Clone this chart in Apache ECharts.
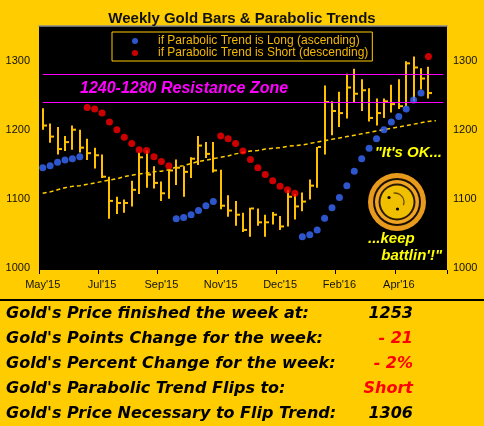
<!DOCTYPE html>
<html><head><meta charset="utf-8">
<style>html,body{margin:0;padding:0;background:#ffcc00;}#c{width:484px;height:426px;}</style>
<script src="https://cdn.jsdelivr.net/npm/echarts@6/dist/echarts.min.js"></script>
</head><body><div id="c"></div>
<script>
// weekly categories (last two are empty slots at the right edge)
const weeks = ['2015-05-22','2015-05-29','2015-06-05','2015-06-12','2015-06-19','2015-06-26','2015-07-03','2015-07-10','2015-07-17','2015-07-24','2015-07-31','2015-08-07','2015-08-14','2015-08-21','2015-08-28','2015-09-04','2015-09-11','2015-09-18','2015-09-25','2015-10-02','2015-10-09','2015-10-16','2015-10-23','2015-10-30','2015-11-06','2015-11-13','2015-11-20','2015-11-27','2015-12-04','2015-12-11','2015-12-18','2015-12-25','2016-01-01','2016-01-08','2016-01-15','2016-01-22','2016-01-29','2016-02-05','2016-02-12','2016-02-19','2016-02-26','2016-03-04','2016-03-11','2016-03-18','2016-03-25','2016-04-01','2016-04-08','2016-04-15','2016-04-22','2016-04-29','2016-05-06','2016-05-13','2016-05-20','2016-05-27','2016-06-03'];
const tickLabels = ["May'15","Jul'15","Sep'15","Nov'15","Dec'15","Feb'16","Apr'16"];
const yTicks = [1000,1100,1200,1300];
const highs  = [1231,1209,1204,1191,1206,1200,1187,1174,1164,1132,1103,1099,1126,1167,1170,1147,1125,1142,1157,1147,1160,1191,1182,1182,1142,1105,1097,1080,1087,1086,1077,1081,1075,1113,1107,1109,1128,1175,1264,1241,1255,1281,1288,1273,1260,1245,1245,1265,1273,1299,1306,1289,1291];
const lows   = [1200,1181,1164,1169,1171,1167,1156,1144,1130,1071,1078,1080,1089,1107,1116,1115,1097,1100,1120,1103,1130,1149,1159,1138,1085,1074,1061,1052,1045,1061,1045,1063,1055,1060,1070,1082,1099,1116,1164,1192,1204,1216,1239,1227,1212,1206,1217,1225,1230,1234,1241,1258,1245];
const closes = [1206,1190,1172,1182,1200,1174,1166,1163,1132,1097,1094,1094,1113,1160,1135,1123,1108,1141,1145,1139,1158,1177,1165,1141,1090,1083,1077,1055,1086,1066,1066,1077,1060,1103,1089,1096,1119,1175,1240,1227,1224,1261,1252,1257,1217,1224,1241,1237,1234,1296,1290,1274,1253];
const sarLong = [1145,1148,1153,1156,1158,1161,null,null,null,null,null,null,null,null,null,null,null,null,1071,1073,1077,1083,1090,1096,null,null,null,null,null,null,null,null,null,null,null,1045,1048,1055,1072,1087,1102,1119,1140,1158,1173,1187,1200,1211,1219,1230,1243,1253,null];
const sarShort = [null,null,null,null,null,null,1232,1230,1224,1211,1200,1189,1180,1171,1170,1161,1154,1148,null,null,null,null,null,null,1191,1187,1180,1169,1157,1145,1135,1126,1118,1113,1108,null,null,null,null,null,null,null,null,null,null,null,null,null,null,null,null,null,1306];
const movingAvg = [1108,1110,1113,1116,1118,1119,1121,1123,1125,1127,1129,1132,1134,1136,1137,1139,1140,1142,1146,1148,1151,1154,1156,1158,1160,1162,1165,1167,1169,1170,1172,1173,1174,1176,1177,1178,1180,1182,1184,1186,1188,1190,1192,1194,1196,1198,1200,1202,1204,1206,1208,1210,1212,1213];
const zoneLow = 1240, zoneHigh = 1280;
const tableLabels = ["Gold's Price finished the week at:","Gold's Points Change for the week:","Gold's Percent Change for the week:","Gold's Parabolic Trend Flips to:","Gold's Price Necessary to Flip Trend:"];
const tableValues = ["1253","- 21","- 2%","Short","1306"];
const tableColors = ['#000','#ff0000','#ff0000','#ff0000','#000'];

const ohlc = highs.map((h,i)=>[i,h,lows[i],closes[i]]);
const longPts = sarLong.map((v,i)=>v==null?null:[i,v]).filter(Boolean);
const shortPts = sarShort.map((v,i)=>v==null?null:[i,v]).filter(Boolean);
const BAR = '#ffc000';
const LONG = 'if Parabolic Trend is Long (ascending)';
const SHORT = 'if Parabolic Trend is Short (descending)';
const SANS = 'Liberation Sans, Arial, sans-serif';
const VERD = 'DejaVu Sans, Verdana, sans-serif';

const graphics = [
  {type:'line', shape:{x1:0,y1:300,x2:484,y2:300}, style:{stroke:'#000',lineWidth:2}},
  // smiley decoration
  {type:'circle', shape:{cx:397,cy:202,r:29}, style:{fill:'#e89a1c'}},
  {type:'circle', shape:{cx:397,cy:202,r:24}, style:{fill:'#1a1000'}},
  {type:'circle', shape:{cx:397,cy:202,r:22}, style:{fill:'#f0a424'}},
  {type:'circle', shape:{cx:397,cy:202,r:18.5}, style:{fill:'#2a1a00'}},
  {type:'circle', shape:{cx:397,cy:202,r:16.5}, style:{fill:'#f0c000'}},
  {type:'circle', shape:{cx:389,cy:197.5,r:1.6}, style:{fill:'#000'}},
  {type:'circle', shape:{cx:397.5,cy:209,r:1.6}, style:{fill:'#000'}},
  {type:'arc', shape:{cx:395,cy:202,r:9,startAngle:-Math.PI*0.55,endAngle:Math.PI*0.12}, style:{stroke:'#6a4a00',lineWidth:1.3,fill:null}},
  {type:'text', style:{x:442,y:153,text:'"It\'s OK...',fill:'#ffff00',font:'italic bold 15px '+SANS,align:'right',verticalAlign:'middle'}},
  {type:'text', style:{x:368,y:239,text:'...keep',fill:'#ffff00',font:'italic bold 15px '+SANS,align:'left',verticalAlign:'middle'}},
  {type:'text', style:{x:442,y:256,text:'battlin\'!"',fill:'#ffff00',font:'italic bold 15px '+SANS,align:'right',verticalAlign:'middle'}}
];
const rowY = [314,339,364,389,414];
tableLabels.forEach((t,i)=>{
  graphics.push({type:'text', style:{x:6,y:rowY[i],text:t,fill:'#000',font:'italic bold 16px '+VERD,align:'left',verticalAlign:'middle'}});
  graphics.push({type:'text', style:{x:413,y:rowY[i],text:tableValues[i],fill:tableColors[i],font:'italic bold 16px '+VERD,align:'right',verticalAlign:'middle'}});
});

const chart = echarts.init(document.getElementById('c'), null, {renderer:'canvas'});
chart.setOption({
  backgroundColor:'#ffcc00',
  animation:false,
  title:{text:'Weekly Gold Bars & Parabolic Trends', left:'center', top:11, padding:0,
    textStyle:{fontFamily:SANS, fontWeight:'bold', fontSize:15, color:'#111', lineHeight:16}},
  legend:{data:[LONG,SHORT], orient:'vertical', left:112, top:32, itemGap:0, itemWidth:6, itemHeight:6,
    icon:'circle', padding:[3,4,2,20], borderColor:'#ffcc00', borderWidth:1, selectedMode:false,
    textStyle:{color:'#f5b800', fontSize:12, fontFamily:SANS, lineHeight:11, padding:[0,0,0,15]}},
  grid:{left:39, right:37, top:26, bottom:156, show:true, backgroundColor:'#000', borderWidth:0},
  xAxis:[{type:'category', data:weeks, boundaryGap:true,
      axisLine:{show:false},
      axisTick:{show:true, interval:7, length:4, lineStyle:{color:'#000'}},
      axisLabel:{interval:7, margin:9, color:'#111', fontSize:11, fontFamily:SANS,
        formatter:(v,idx)=>tickLabels[Math.round(idx/8)]||''},
      splitLine:{show:false}},
    {type:'category', data:weeks, position:'top', axisLine:{show:true,lineStyle:{color:'#8c8c8c',width:1.5}},
      axisTick:{show:false}, axisLabel:{show:false}}],
  yAxis:[{type:'value', min:997, max:1350, position:'left', splitLine:{show:false}, axisLine:{show:false}, axisTick:{show:false},
      axisLabel:{customValues:yTicks, margin:9, color:'#111', fontSize:11, fontFamily:SANS, formatter:v=>String(v)}},
    {type:'value', min:997, max:1350, position:'right', splitLine:{show:false}, axisLine:{show:false}, axisTick:{show:false},
      axisLabel:{customValues:yTicks, margin:6, color:'#111', fontSize:11, fontFamily:SANS, formatter:v=>String(v)}}],
  series:[
    {type:'line', name:'MA', data:movingAvg, showSymbol:false, symbol:'none', z:2,
      lineStyle:{color:'#ffcc00', width:1.5, type:[4,3]},
      markLine:{silent:true, symbol:'none', label:{show:false},
        lineStyle:{color:'#ff00ff', width:1.2, type:'solid'},
        data:[[{coord:[weeks[0],zoneLow]},{coord:[weeks[54],zoneLow]}],[{coord:[weeks[0],zoneHigh]},{coord:[weeks[54],zoneHigh]}]]},
      markArea:{silent:true, itemStyle:{color:'rgba(0,0,0,0)'},
        label:{show:true, position:'insideLeft', distance:41, color:'#ff00ff', fontSize:16, fontWeight:'bold', fontStyle:'italic', fontFamily:SANS},
        data:[[{name:'1240-1280 Resistance Zone', yAxis:zoneLow},{yAxis:zoneHigh}]]}},
    {type:'custom', name:'Gold', data:ohlc, z:3,
      renderItem:(params, api)=>{
        const x = api.value(0);
        const hi = api.coord([x, api.value(1)]);
        const lo = api.coord([x, api.value(2)]);
        const cl = api.coord([x, api.value(3)]);
        const cx = Math.round(hi[0]);
        return {type:'group', children:[
          {type:'rect', shape:{x:cx-1, y:hi[1], width:2, height:lo[1]-hi[1]}, style:{fill:BAR}},
          {type:'rect', shape:{x:cx+1, y:cl[1]-1, width:3, height:2}, style:{fill:BAR}}
        ]};
      }},
    {type:'scatter', name:LONG, data:longPts, symbol:'circle', symbolSize:7, z:4, itemStyle:{color:'#3a6cff'}},
    {type:'scatter', name:SHORT, data:shortPts, symbol:'circle', symbolSize:7, z:4, itemStyle:{color:'#ff0000'}}
  ],
  graphic:graphics
});
</script></body></html>
